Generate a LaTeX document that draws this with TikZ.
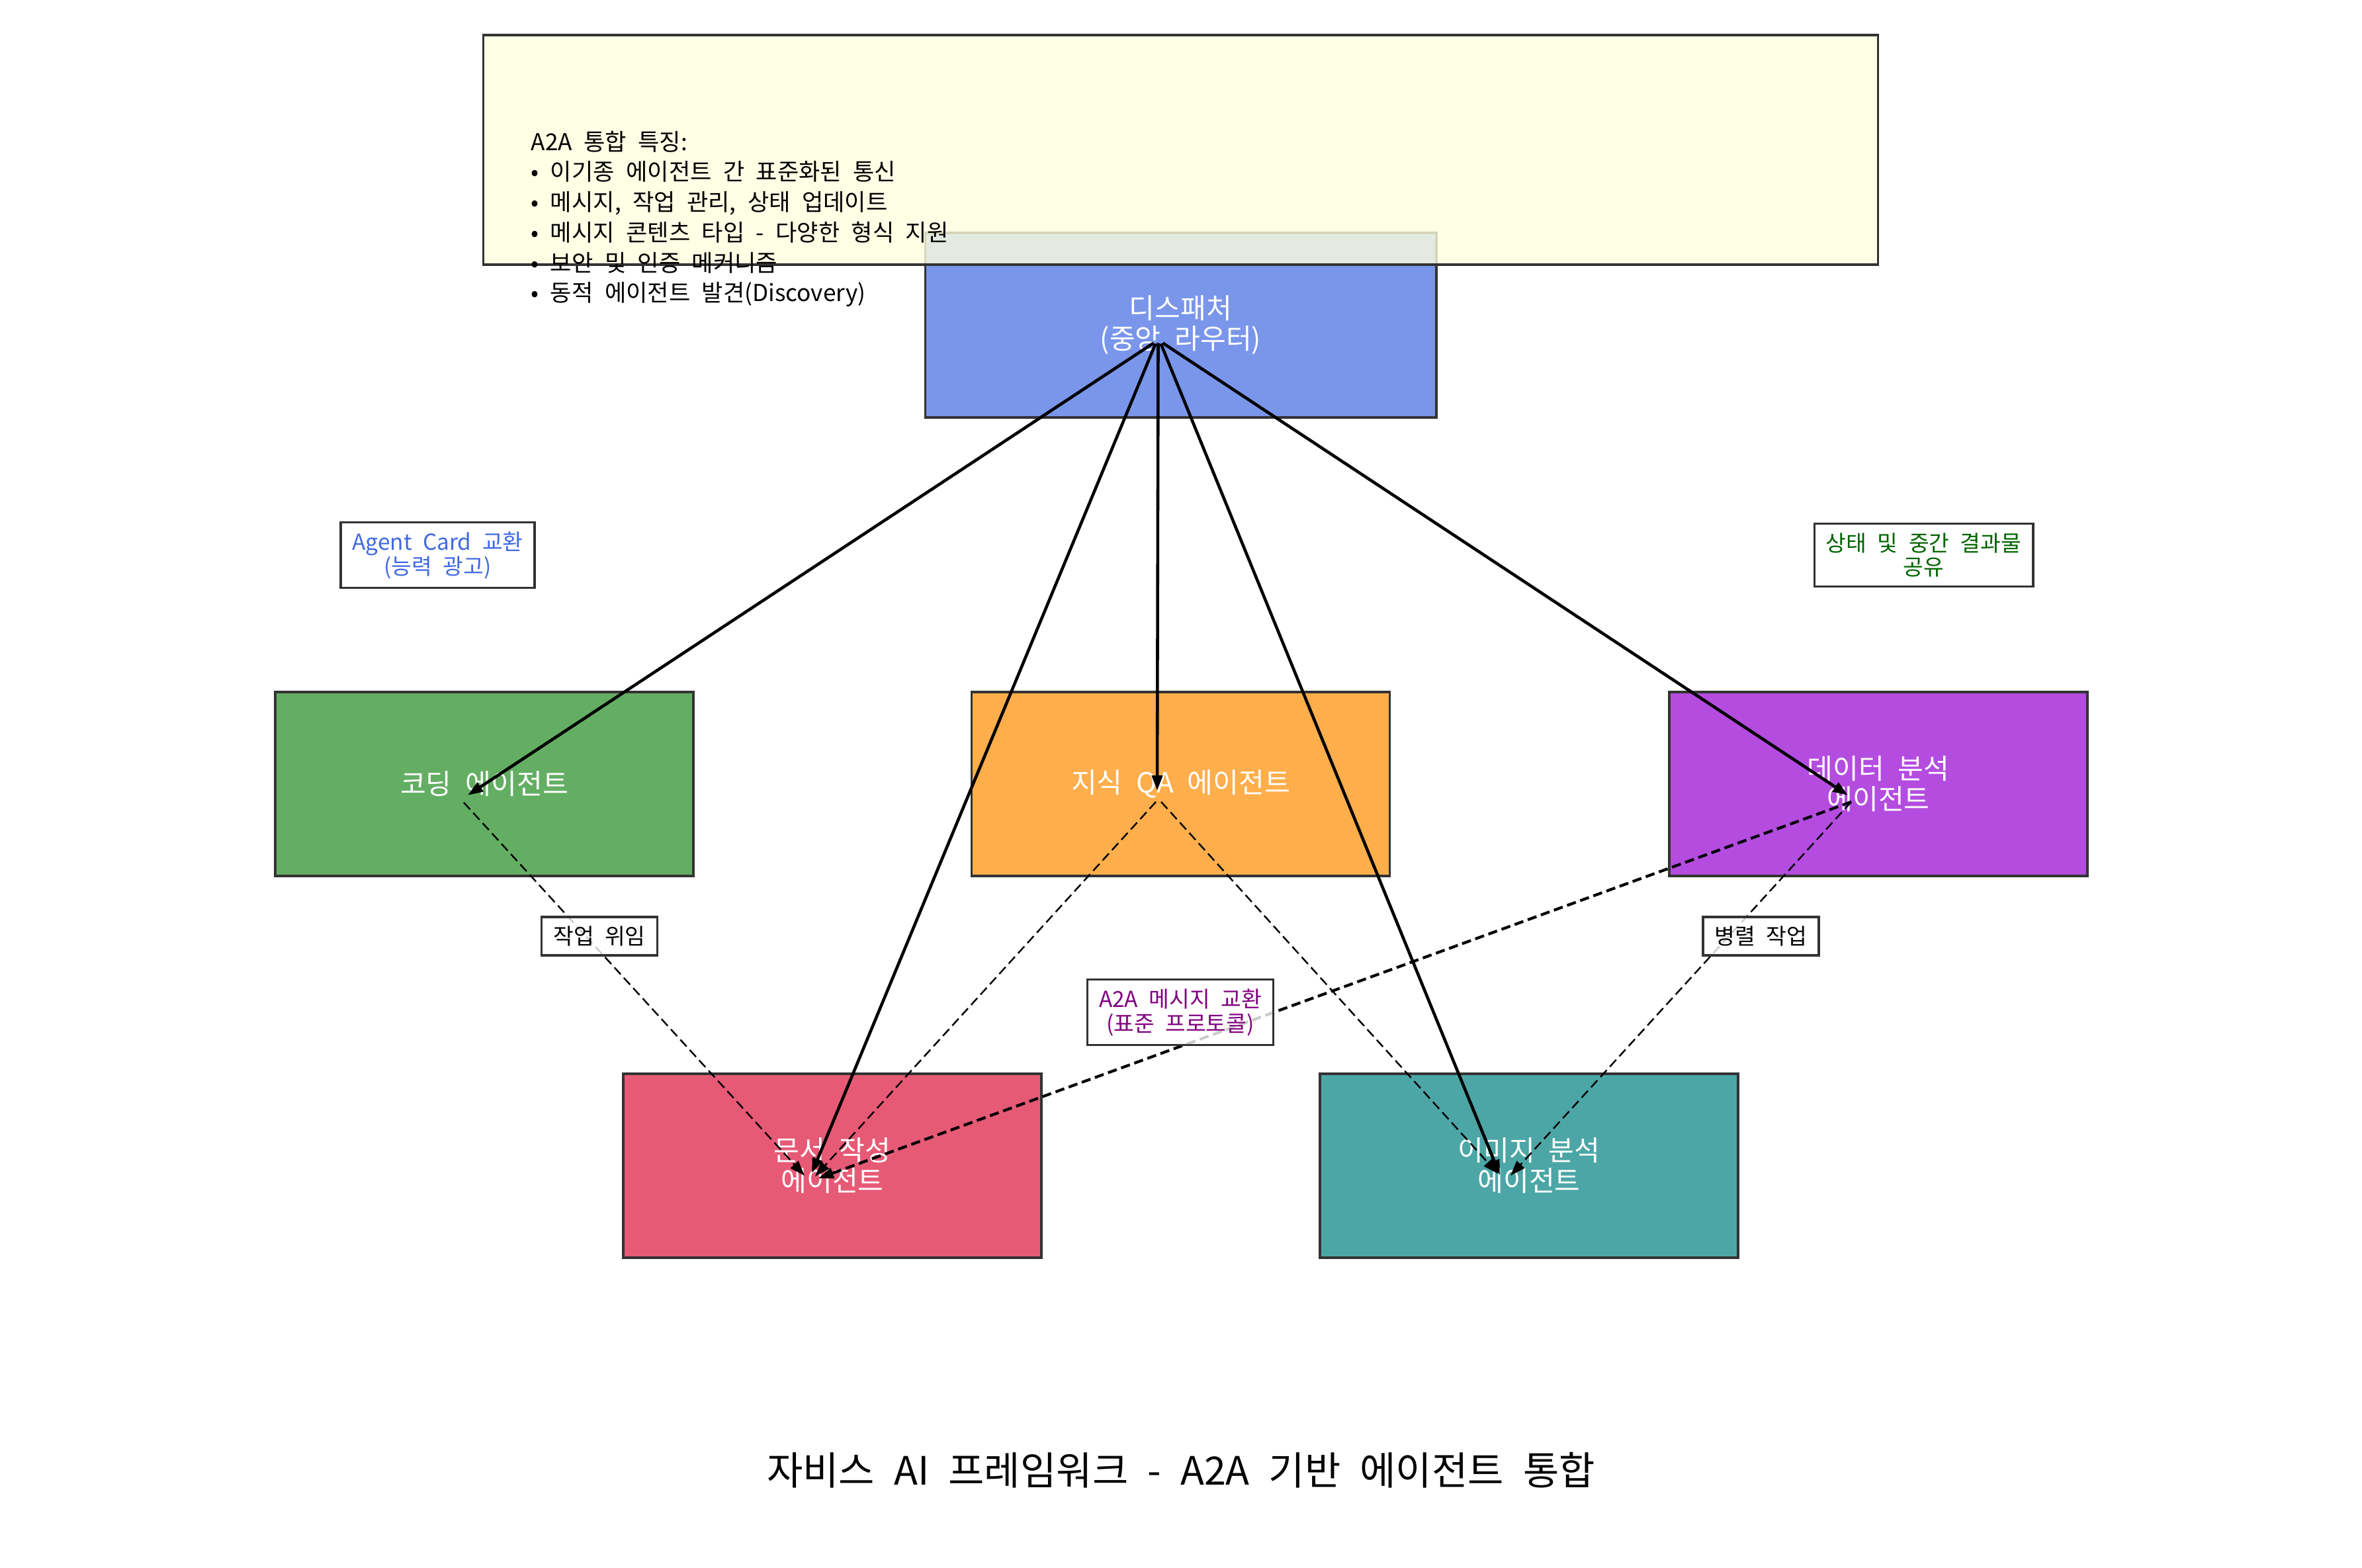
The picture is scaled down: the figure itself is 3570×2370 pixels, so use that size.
\documentclass[tikz,border=0pt]{standalone}
\usepackage{fontspec}
\setmainfont{Noto Sans CJK KR}[WordSpace=2.2]
\usepackage{xcolor}
\usetikzlibrary{arrows.meta,positioning,calc}
\definecolor{dispfill}{RGB}{122,150,234}
\definecolor{codefill}{RGB}{100,174,100}
\definecolor{knowfill}{RGB}{255,174,76}
\definecolor{datafill}{RGB}{180,76,224}
\definecolor{docfill}{RGB}{230,90,118}
\definecolor{imgfill}{RGB}{76,166,166}
\definecolor{infofill}{RGB}{255,255,224}
\definecolor{edgegray}{RGB}{51,51,51}
\definecolor{cardblue}{RGB}{65,105,225}
\definecolor{sharegreen}{RGB}{0,100,0}
\definecolor{msgpurple}{RGB}{128,0,128}

\begin{document}
\begin{tikzpicture}[
  x=0.01cm, y=-0.01cm,
  agent/.style={draw=edgegray, line width=1pt, minimum width=6.32cm, minimum height=2.78cm,
    text=white, align=center, font=\fontsize{12}{13}\selectfont},
  lab/.style={draw=edgegray, line width=1pt, fill=white, fill opacity=0.8, text opacity=1,
    align=center, inner xsep=5pt, inner ysep=4pt, font=\fontsize{9.5}{10.5}\selectfont},
  call/.style={line width=1.3pt, -{Triangle[length=6.5pt,width=4.5pt]}},
  pass/.style={line width=0.7pt, dash pattern=on 4pt off 2pt, -{Triangle[length=6.5pt,width=4.5pt]}}
]
\useasboundingbox (0,0) rectangle (3570,2370);

\node[agent, fill=dispfill, minimum width=7.72cm, minimum height=2.79cm] (disp) at (1784.5,491.5) {디스패처\\(중앙 라우터)};
\node[draw=edgegray, line width=1pt, fill=infofill, fill opacity=0.8,
  minimum width=21.07cm, minimum height=3.47cm] (info) at (1784.5,226.5) {};
\node[anchor=west, align=left, inner sep=0, font=\fontsize{10}{13}\selectfont] (feat) at (802,331)
  {A2A 통합 특징:\\• 이기종 에이전트 간 표준화된 통신\\• 메시지, 작업 관리, 상태 업데이트\\• 메시지 콘텐츠 타입 - 다양한 형식 지원\\• 보안 및 인증 메커니즘\\• 동적 에이전트 발견(Discovery)};

\node[agent, fill=codefill] (code) at (732,1185) {코딩 에이전트};
\node[agent, fill=knowfill] (know) at (1784.5,1185) {지식 QA 에이전트};
\node[agent, fill=datafill] (data) at (2839,1185) {데이터 분석\\에이전트};
\node[agent, fill=docfill] (doc) at (1258,1762) {문서 작성\\에이전트};
\node[agent, fill=imgfill] (img) at (2311,1762) {이미지 분석\\에이전트};

\draw[call] ($(disp)+(-41,27)$) -- ($(code)+(-25,17)$);
\draw[call] ($(disp)+(-34,27)$) -- ($(know)+(-35.5,10)$);
\draw[call] ($(disp)+(-27,27)$) -- ($(data)+(-46,17)$);
\draw[call] ($(disp)+(-38,28)$) -- ($(doc)+(-31,11)$);
\draw[call] ($(disp)+(-30,28)$) -- ($(img)+(-44,14)$);

\draw[pass] ($(code)+(-31,28)$) -- ($(doc)+(-42,15)$);
\draw[pass] ($(know)+(-37.5,27)$) -- ($(doc)+(-26,16)$);
\draw[pass] ($(know)+(-29.5,27)$) -- ($(img)+(-47,12)$);
\draw[pass, line width=1.2pt] ($(data)+(-41,27)$) -- ($(doc)+(-21,19)$);
\draw[pass] ($(data)+(-41,27)$) -- ($(img)+(-28,15)$);

\node[lab, text=cardblue] (card) at (661.5,839) {Agent Card 교환\\(능력 광고)};
\node[lab, text=sharegreen] (share) at (2907.5,839) {상태 및 중간 결과물\\공유};
\node[lab] (deleg) at (906,1415) {작업 위임};
\node[lab] (para) at (2661.5,1415) {병렬 작업};
\node[lab, text=msgpurple] (msg) at (1784,1530) {A2A 메시지 교환\\(표준 프로토콜)};

\node[font=\fontsize{16.8}{20}\selectfont] (title) at (1785,2222) {자비스 AI 프레임워크 - A2A 기반 에이전트 통합};
\end{tikzpicture}
\end{document}
